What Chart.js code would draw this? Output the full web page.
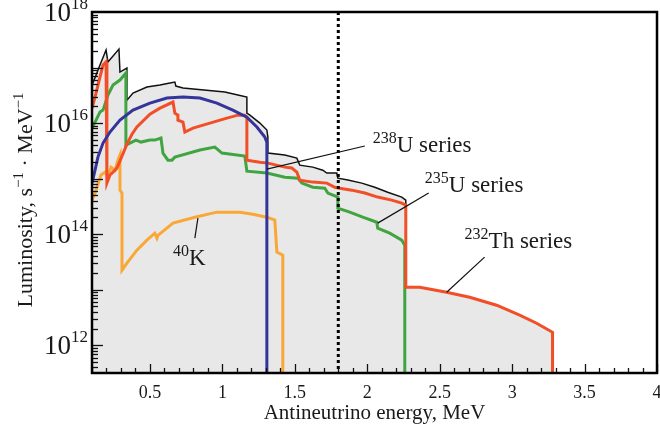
<!DOCTYPE html>
<html><head><meta charset="utf-8">
<script src="https://cdn.jsdelivr.net/npm/chart.js@4"></script>
<style>html,body{margin:0;padding:0;background:#fff}#c{display:block}</style>
</head><body>
<canvas id="c" width="660" height="438"></canvas>
<script>
// ---- data (energy in MeV, luminosity in s^-1 MeV^-1) ----
const totalE = [0.100,0.128,0.155,0.183,0.197,0.210,0.286,0.293,0.341,0.341,0.383,0.479,0.569,0.638,0.672,0.679,0.728,1.017,1.107,1.169,1.169,1.190,1.259,1.307,1.314,1.314,1.431,1.514,1.534,1.624,1.693,1.721,1.790,1.797,1.866,1.962,2.052,2.141,2.238,2.266,2.266,2.362,2.548,2.707,2.893,3.052,3.169,3.279,3.279];
const totalL = [4.84e16,7.3e16,1.11e17,1.68e17,2.07e17,1.26e17,2.15e17,8.3e16,9.8e16,2.59e16,3.48e16,4.46e16,4.84e16,5.26e16,5.48e16,4.64e16,4.28e16,3.62e16,3.20e16,2.94e16,1.51e16,1.39e16,1.0e16,7.5e15,5.6e15,2.88e15,2.65e15,2.34e15,1.75e15,1.61e15,1.42e15,1.26e15,1.26e15,1.02e15,9.4e14,8.3e14,7.0e14,5.7e14,4.65e14,4.1e14,1.11e13,1.11e13,9.0e12,7.3e12,5.26e12,3.48e12,2.49e12,1.71e12,1e11];

const redE = [0.100,0.121,0.155,0.176,0.197,0.203,0.203,0.224,0.245,0.272,0.307,0.341,0.376,0.410,0.500,0.569,0.659,0.672,0.693,0.693,0.728,0.741,0.797,0.914,1.031,1.107,1.155,1.169,1.169,1.259,1.314,1.431,1.479,1.514,1.534,1.624,1.721,1.776,1.810,1.893,1.983,2.072,2.169,2.238,2.266,2.266,2.362,2.548,2.707,2.893,3.052,3.169,3.279,3.279];
const redL = [1.86e16,2.94e16,6.7e16,1.11e17,1.26e17,1.26e17,8.3e14,1.16e15,1.31e15,1.55e15,2.54e15,4.19e15,6.3e15,8.5e15,1.45e16,1.86e16,2.39e16,1.51e16,1.39e16,1.13e16,1.04e16,6.9e15,8.1e15,1.0e16,1.23e16,1.39e16,1.39e16,1.28e16,2.15e15,1.98e15,1.90e15,1.61e15,1.55e15,1.31e15,9.4e14,8.65e14,8.3e14,7.0e14,6.7e14,6.2e14,5.5e14,4.65e14,4.1e14,3.62e14,3.33e14,1.11e13,1.11e13,9.0e12,7.3e12,5.26e12,3.48e12,2.49e12,1.71e12,1e11];

const greenE = [0.100,0.128,0.155,0.176,0.210,0.245,0.293,0.334,0.334,0.362,0.403,0.438,0.500,0.534,0.576,0.590,0.624,0.652,0.672,0.845,0.948,0.997,1.155,1.169,1.307,1.431,1.521,1.548,1.624,1.707,1.728,1.797,1.797,1.879,1.969,2.066,2.072,2.155,2.238,2.259,2.259];
const greenL = [8.1e15,1.13e16,1.58e16,1.71e16,3.2e16,4.84e16,5.96e16,7.96e16,4.02e15,4.37e15,4.94e15,4.55e15,4.94e15,4.94e15,5.37e15,2.88e15,2.15e15,2.15e15,2.44e15,3.27e15,3.70e15,2.88e15,2.54e15,1.36e15,1.26e15,1.06e15,1.02e15,8.3e14,7.0e14,6.7e14,5.5e14,4.65e14,2.94e14,2.49e14,2.02e14,1.64e14,1.28e14,1.04e14,7.8e13,6.3e13,1e11];

const blueE = [0.100,0.121,0.141,0.176,0.224,0.293,0.383,0.500,0.617,0.728,0.845,0.962,1.072,1.169,1.238,1.293,1.307,1.307];
const blueL = [8.3e14,1.42e15,2.44e15,4.37e15,6.9e15,1.13e16,1.71e16,2.29e16,2.82e16,2.94e16,2.82e16,2.29e16,1.71e16,1.28e16,8.5e15,5.6e15,4.55e15,1e11];

const orangeE = [0.100,0.121,0.162,0.190,0.210,0.231,0.259,0.279,0.293,0.293,0.307,0.307,0.341,0.410,0.479,0.534,0.548,0.555,0.659,0.810,0.962,1.121,1.210,1.307,1.362,1.376,1.417,1.417];
const orangeL = [4.1e14,5.5e14,1.16e15,1.31e15,1.06e15,1.61e15,1.42e15,2.15e15,2.65e15,6.2e14,5.5e14,2.24e13,3.0e13,5.15e13,7.8e13,1.04e14,8.5e13,9.5e13,1.58e14,2.02e14,2.49e14,2.49e14,2.29e14,2.02e14,1.79e14,4.74e13,4.19e13,1e11];

const thresholdE = [1.8, 1.8];
const thresholdL = [1e18, 1e11];

const xTickValues = [0.5, 1, 1.5, 2, 2.5, 3, 3.5, 4];
const yTickExponents = [12, 14, 16, 18];

// ---- styling / drawing ----
const FONT = "'Liberation Serif', 'Times New Roman', serif";
const TXT = '#1a1a1a';
const pts = (xs, ys) => xs.map((x, i) => ({x, y: ys[i]}));
const ds = (label, xs, ys, color, width, order, extra) => Object.assign({
  label, data: pts(xs, ys), borderColor: color, borderWidth: width,
  pointRadius: 0, tension: 0, fill: false, order, borderJoinStyle: 'miter'
}, extra || {});

const annotations = [
  {sup: '238', main: 'U series', E: 2.038, L: 3.0e15, line: [[1.983, 3.86e15], [1.307, 1.48e15]]},
  {sup: '235', main: 'U series', E: 2.397, L: 5.7e14, line: [[2.424, 5.5e14], [2.072, 1.58e14]]},
  {sup: '232', main: 'Th series', E: 2.672, L: 5.6e13, line: [[2.810, 3.85e13], [2.548, 9.0e12]]},
  {sup: '40', main: 'K', E: 0.659, L: 2.76e13, line: [[0.831, 1.94e14], [0.810, 8.5e13]]}
];

function supText(ctx, x, base, sup, main, mainSize, supSize, raise) {
  ctx.textBaseline = 'alphabetic';
  ctx.textAlign = 'left';
  ctx.font = supSize + 'px ' + FONT;
  ctx.fillText(sup, x, base - raise);
  const w = ctx.measureText(sup).width;
  ctx.font = mainSize + 'px ' + FONT;
  ctx.fillText(main, x + w, base);
}

const decor = {
  id: 'decor',
  afterDatasetsDraw(chart) {
    const {ctx, chartArea: a, scales: {x, y}} = chart;
    ctx.save();
    ctx.strokeStyle = '#111';
    ctx.lineWidth = 1.3;
    for (let k = 1; k <= 40; k++) {
      const v = k / 10;
      const px = Math.round(x.getPixelForValue(v)) + 0.5;
      const len = (k % 5 === 0) ? 9 : 5;
      ctx.beginPath(); ctx.moveTo(px, a.bottom); ctx.lineTo(px, a.bottom - len); ctx.stroke();
    }
    for (let d = 11; d < 18; d++) {
      for (let m = 1; m <= 9; m++) {
        const v = m * Math.pow(10, d);
        if (v < y.min * 0.999 || v > y.max * 1.001) continue;
        const py = Math.round(y.getPixelForValue(v)) + 0.5;
        const len = m === 1 ? 11 : 6;
        ctx.beginPath(); ctx.moveTo(a.left, py); ctx.lineTo(a.left + len, py); ctx.stroke();
      }
    }
    ctx.fillStyle = TXT;
    ctx.lineWidth = 1.2;
    annotations.forEach(an => {
      const [p, q] = an.line;
      ctx.beginPath();
      ctx.moveTo(x.getPixelForValue(p[0]), y.getPixelForValue(p[1]));
      ctx.lineTo(x.getPixelForValue(q[0]), y.getPixelForValue(q[1]));
      ctx.stroke();
      supText(ctx, x.getPixelForValue(an.E), y.getPixelForValue(an.L), an.sup, an.main, 23, 16, 9);
    });
    ctx.lineWidth = 2.5;
    ctx.strokeStyle = '#000';
    ctx.strokeRect(a.left, a.top, a.right - a.left, a.bottom - a.top);
    ctx.restore();
  },
  afterDraw(chart) {
    const {ctx, chartArea: a, scales: {y}} = chart;
    ctx.save();
    ctx.fillStyle = TXT;
    yTickExponents.forEach(e => {
      const py = y.getPixelForValue(Math.pow(10, e));
      const sup = String(e);
      ctx.font = '17px ' + FONT;
      const sw = ctx.measureText(sup).width;
      ctx.font = '27px ' + FONT;
      const bw = ctx.measureText('10').width;
      const right = 88;
      const base = py + 9;
      ctx.textAlign = 'left';
      ctx.textBaseline = 'alphabetic';
      ctx.fillText('10', right - sw - bw, base);
      ctx.font = '17px ' + FONT;
      ctx.fillText(sup, right - sw, base - 12);
    });
    ctx.font = '21px ' + FONT;
    ctx.textAlign = 'center';
    ctx.textBaseline = 'middle';
    ctx.fillText('Antineutrino energy, MeV', (a.left + a.right) / 2, 413);
    const parts = [['Luminosity, s', 0], ['\u22121', 1], [' \u00b7 MeV', 0], ['\u22121', 1]];
    ctx.save();
    ctx.translate(25, 200);
    ctx.rotate(-Math.PI / 2);
    let total = 0;
    parts.forEach(([t, s]) => { ctx.font = (s ? 15 : 22) + 'px ' + FONT; total += ctx.measureText(t).width; });
    let cx = -total / 2;
    ctx.textAlign = 'left';
    ctx.textBaseline = 'alphabetic';
    parts.forEach(([t, s]) => {
      ctx.font = (s ? 15 : 22) + 'px ' + FONT;
      ctx.fillText(t, cx, s ? -2 : 7);
      cx += ctx.measureText(t).width;
    });
    ctx.restore();
    ctx.restore();
  }
};

new Chart(document.getElementById('c'), {
  type: 'line',
  data: {datasets: [
    ds('threshold', thresholdE, thresholdL, '#000', 3, 0, {borderDash: [3, 3]}),
    ds('blue', blueE, blueL, '#34349a', 3, 1),
    ds('red', redE, redL, '#f24e27', 3, 2),
    ds('green', greenE, greenL, '#40a540', 3, 3),
    ds('orange', orangeE, orangeL, '#f9a737', 3, 4),
    ds('total', totalE, totalL, '#111', 1.5, 5, {fill: 'start', backgroundColor: '#e8e8e8'})
  ]},
  options: {
    responsive: false, animation: false, devicePixelRatio: 1,
    layout: {padding: {left: 0, right: 3, top: 12, bottom: 0}},
    plugins: {legend: {display: false}, tooltip: {enabled: false}},
    scales: {
      x: {
        type: 'linear', min: 0.1, max: 4,
        grid: {display: false, drawTicks: false}, border: {display: false},
        afterBuildTicks: s => { s.ticks = xTickValues.map(v => ({value: v})); },
        afterFit: s => { s.height = 65; s.paddingLeft = 0; s.paddingRight = 0; },
        ticks: {font: {family: FONT, size: 18}, color: TXT, padding: 9, maxRotation: 0, autoSkip: false, callback: v => String(v)}
      },
      y: {
        type: 'logarithmic', min: 3.1623e11, max: 1e18,
        grid: {display: false, drawTicks: false}, border: {display: false},
        ticks: {display: false},
        afterFit: s => { s.width = 92; }
      }
    }
  },
  plugins: [decor]
});
</script>
</body></html>
